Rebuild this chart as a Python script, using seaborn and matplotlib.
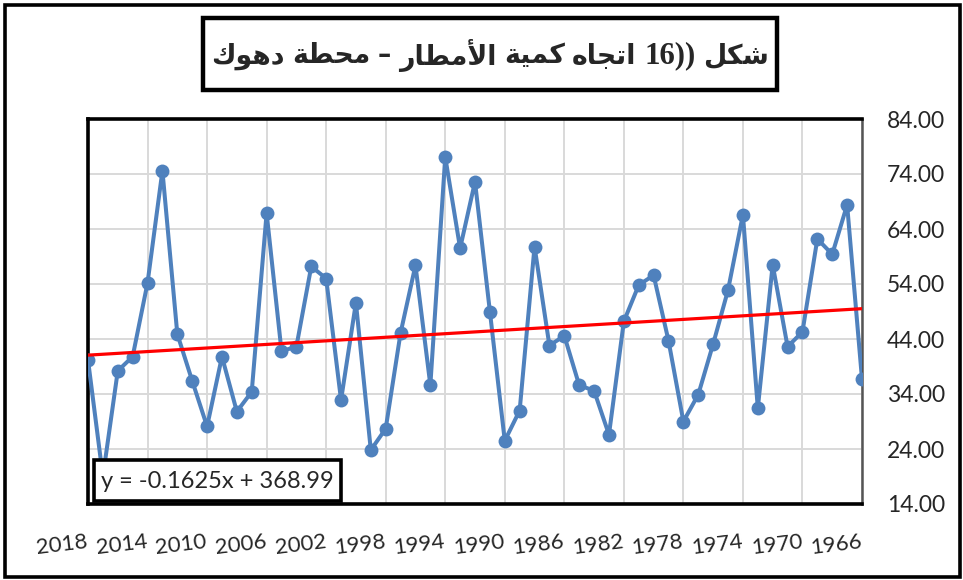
import numpy as np
import pandas as pd
import matplotlib
matplotlib.use("Agg")
import matplotlib.pyplot as plt
import seaborn as sns
from matplotlib.patches import Rectangle
from matplotlib.transforms import ScaledTranslation

# ---------------- data ----------------
years = [2018, 2017, 2016, 2015, 2014, 2013, 2012, 2011, 2010, 2009,
         2008, 2007, 2006, 2005, 2004, 2003, 2002, 2001, 2000, 1999,
         1998, 1997, 1996, 1995, 1994, 1993, 1992, 1991, 1990, 1989,
         1988, 1987, 1986, 1985, 1984, 1983, 1982, 1981, 1980, 1979,
         1978, 1977, 1976, 1975, 1974, 1973, 1972, 1971, 1970, 1969,
         1968, 1967, 1966]
rainfall = [40.2, 19.0, 38.2, 40.8, 54.2, 74.6, 44.9, 36.4, 28.1, 40.8,
            30.8, 34.4, 66.9, 41.8, 42.6, 57.2, 55.0, 32.9, 50.6, 23.8,
            27.7, 45.1, 57.4, 35.6, 77.1, 60.5, 72.6, 49.0, 25.5, 31.0,
            60.8, 42.8, 44.6, 35.6, 34.6, 26.6, 47.2, 53.8, 55.6, 43.7,
            29.0, 33.9, 43.1, 52.9, 66.6, 31.4, 57.5, 42.6, 45.3, 62.2,
            59.4, 68.4, 36.7]
trend_slope = -0.1625
trend_intercept = 368.99
x_tick_years = [2018, 2014, 2010, 2006, 2002, 1998, 1994, 1990, 1986,
                1982, 1978, 1974, 1970, 1966]
y_ticks = [14, 24, 34, 44, 54, 64, 74, 84]
equation_label = "y = -0.1625x + 368.99"
# Title: "شكل ((16 اتجاه كمية الأمطار – محطة دهوك" (right-to-left).
# matplotlib draws left to right without shaping, so the words are listed
# in on-screen order (left to right), each written with presentation forms
# in visual order.
title_words = [
    "\uFED9\uFEEE\uFEEB\uFEA9",             # دهوك
    "\uFE94\uFEC4\uFEA4\uFEE3",             # محطة
    "\u2013",
    "\uFEAD\uFE8E\uFEC4\uFEE3\uFEF7\uFE8D", # الأمطار
    "\uFE94\uFEF4\uFEE4\uFEDB",             # كمية
    "\uFEE9\uFE8E\uFEA0\uFE97\uFE8D",       # اتجاه
    "16))",
    "\uFEDE\uFEDC\uFEB7",                   # شكل
]

df = pd.DataFrame({"year": years, "value": rainfall})

# ---------------- style ----------------
sns.set_theme(style="white")
plt.rcParams["font.family"] = ["Lato", "DejaVu Sans"]

W, H = 963, 580
fig = plt.figure(figsize=(W / 100, H / 100), dpi=100)
fig.patch.set_facecolor("white")


def frac_rect(x0, y0, x1, y1):
    return [x0 / W, 1 - y1 / H, (x1 - x0) / W, (y1 - y0) / H]


ax = fig.add_axes(frac_rect(88, 119, 862, 504))

sns.lineplot(data=df, x="year", y="value", sort=False, ax=ax,
             color="#4F81BD", linewidth=2.9, marker="o", markersize=10,
             markeredgewidth=0, zorder=3)

tx = np.array([years[0], years[-1]], dtype=float)
ax.plot(tx, trend_slope * tx + trend_intercept, color="#FF0000",
        linewidth=2.3, zorder=4)

ax.set_xlim(years[0], years[-1])
ax.set_ylim(y_ticks[0], y_ticks[-1])
ax.set_xticks(x_tick_years)
ax.set_xticklabels([str(y) for y in x_tick_years], fontsize=16,
                   rotation=7, rotation_mode="anchor", ha="center")
ax.set_yticks(y_ticks)
ax.set_yticklabels([f"{v:.2f}" for v in y_ticks], fontsize=16.5)
ax.yaxis.tick_right()
ax.tick_params(axis="both", length=0)
ax.tick_params(axis="y", pad=18)
ax.tick_params(axis="x", pad=22)
ax.set_xlabel("")
ax.set_ylabel("")
ax.grid(True, color="#D9D9D9", linewidth=1.4, zorder=0)
ax.set_axisbelow(True)
for s in ax.spines.values():
    s.set_color("black")
    s.set_linewidth(2.6)
ax.spines["right"].set_linewidth(1.8)
ax.spines["right"].set_color("#555555")

offset = ScaledTranslation(-27 / 100, 0, fig.dpi_scale_trans)
for lab in ax.get_xticklabels():
    lab.set_transform(lab.get_transform() + offset)

# outer border
fig.patches.append(Rectangle((5 / W, 3 / H), (960 - 5) / W, (575 - 3) / H,
                             transform=fig.transFigure, fill=False,
                             edgecolor="black", linewidth=2.6, zorder=10))

# title box
tb = frac_rect(203, 18, 777, 90)
fig.patches.append(Rectangle((tb[0], tb[1]), tb[2], tb[3],
                             transform=fig.transFigure, facecolor="white",
                             edgecolor="black", linewidth=3.2, zorder=10))

# title words placed left to right, auto-fitted to the reference width
renderer = fig.canvas.get_renderer()
target_left, target_right = 212, 768
base_size = 20


def word_style(w, size):
    if "16" in w:
        return dict(family=["Liberation Serif", "DejaVu Serif"],
                    fontweight="bold", fontsize=size * 1.15)
    return dict(family=["DejaVu Sans"], fontweight="bold", fontsize=size)


def measure(size):
    widths = []
    for w in title_words:
        t = fig.text(0, 0, w, **word_style(w, size))
        widths.append(t.get_window_extent(renderer).width)
        t.remove()
    return widths


space_frac = 0.28
widths = measure(base_size)
total = sum(widths) + space_frac * base_size * 100 / 72 * (len(widths) - 1)
size = base_size * (target_right - target_left) / total
widths = measure(size)
gap = space_frac * size * 100 / 72
total = sum(widths) + gap * (len(widths) - 1)
x = (target_left + target_right) / 2 - total / 2
for w, wd in zip(title_words, widths):
    fig.text(x / W, 1 - 56 / H, w, ha="left", va="center", zorder=11,
             **word_style(w, size))
    x += wd + gap

# equation box
eb = frac_rect(94, 460, 341, 501)
fig.patches.append(Rectangle((eb[0], eb[1]), eb[2], eb[3],
                             transform=fig.transFigure, facecolor="white",
                             edgecolor="black", linewidth=2.6, zorder=10))
fig.text(101 / W, 1 - 482 / H, equation_label, ha="left", va="center",
         fontsize=17, zorder=11)

fig.savefig("out.png", dpi=100)
